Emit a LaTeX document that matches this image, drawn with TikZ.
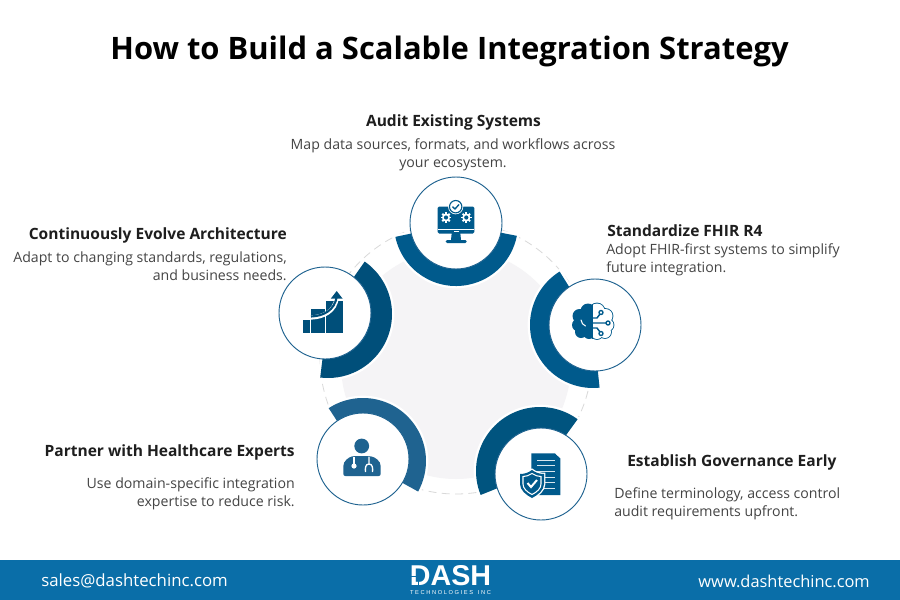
\documentclass[tikz,border=0pt]{standalone}
\usepackage{fontspec}
\setmainfont{Open Sans}
\definecolor{ringA}{HTML}{005A8C}
\definecolor{ringB}{HTML}{004F7A}
\definecolor{ringC}{HTML}{1F6390}
\definecolor{ringD}{HTML}{00547F}
\definecolor{iconc}{HTML}{005A8C}
\definecolor{halo}{HTML}{F5F4F6}
\definecolor{bar}{HTML}{0A6EA8}
\definecolor{bodyc}{HTML}{444444}
\definecolor{headc}{HTML}{1E1E1E}
\newcommand{\ringsec}[6]{%
  \fill[#6,draw=white,line width=3.5pt,line join=miter] (#1,#2) -- ++(#3:#5) arc (#3:#4:#5) -- cycle;
  \fill[#6] (#1,#2) -- ++(#3:#5) arc (#3:#4:#5) -- cycle;}
\newcommand{\gearicon}[2]{%
  \foreach \a in {0,45,...,315}{\fill[white,rotate around={\a:(#1,#2)}] (#1-0.9,#2) rectangle (#1+0.9,#2+5.3);}
  \fill[white] (#1,#2) circle (4);
  \fill[iconc] (#1,#2) circle (2.1);}
\tikzset{
  x=0.75pt,y=0.75pt,
  iconcircle/.style={circle,draw=ringC,fill=white,line width=0.7pt,minimum size=69pt,inner sep=0pt},
  headtxt/.style={inner sep=0pt,text=headc,font=\fontsize{11.65}{13.5}\selectfont\bfseries},
  bodytxt/.style={inner sep=0pt,text=bodyc,font=\fontsize{10.6}{13.5}\selectfont},
  foot/.style={inner sep=0pt,text=white,font=\fontsize{12.6}{14}\selectfont},
}
\begin{document}
\begin{tikzpicture}
\useasboundingbox (0,0) rectangle (900,-600);
\fill[white] (0,0) rectangle (900,-600);
% footer
\fill[bar] (0,-560) rectangle (900,-600);
% backdrop
\fill[halo] (456,-364) circle (115);
\draw[black!15,line width=0.6pt,dash pattern=on 6pt off 4pt] (456,-358) circle (136);
% ring sectors
\ringsec{456}{-224}{192}{349}{62}{ringA}
\ringsec{593}{-325}{122}{276}{63}{ringA}
\ringsec{540}{-471}{54}{202}{64}{ringD}
\ringsec{363}{-461}{123}{-29}{63}{ringC}
\ringsec{328}{-314}{55}{-97}{64}{ringB}
% circles
\node[iconcircle] (audit) at (456,-223) {};
\node[iconcircle] (fhir) at (595,-325) {};
\node[iconcircle] (gov) at (541,-474) {};
\node[iconcircle] (expert) at (363,-459) {};
\node[iconcircle] (evolve) at (325,-313) {};
% monitor icon
\fill[iconc,rounded corners=1pt] (437.7,-206.7) rectangle (474.3,-233.5);
\fill[white] (437.7,-228.6) rectangle (474.3,-229.8);
\fill[white] (453.5,-231) rectangle (458.5,-232);
\fill[iconc] (451.7,-233) -- (460.3,-233) -- (461,-240) -- (451,-240) -- cycle;
\fill[iconc,rounded corners=1pt] (445.7,-240) rectangle (466.7,-243);
\gearicon{446}{-217.5}
\gearicon{466.3}{-217.5}
\fill[white] (455.7,-206.7) circle (7.6);
\draw[iconc,line width=0.85pt] (455.7,-206.7) circle (6.2);
\draw[iconc,line width=1pt] (452.5,-206.7) -- (455,-209) -- (459,-204.5);
% brain icon
\begin{scope}
  \clip (560,-300) rectangle (592.7,-345);
  \fill[iconc] (588,-311) circle (7.5) (579.5,-316) circle (7) (578.5,-325) circle (6.5) (581,-332) circle (6) (589,-333) circle (6) (587,-322) circle (11);
\end{scope}
\begin{scope}
  \clip (592.7,-300) rectangle (625,-345);
  \draw[iconc,line width=1.3pt] (597,-311) circle (7.5) (605.5,-316) circle (7) (607.5,-325) circle (6) (605,-332) circle (6) (597,-333) circle (6);
  \fill[white] (597,-311) circle (7.5) (605.5,-316) circle (7) (607.5,-325) circle (6) (605,-332) circle (6) (597,-333) circle (6) (598,-322) circle (11);
  \draw[iconc,line width=1.1pt] (592.7,-323) -- (606,-323) (592.7,-318) -- (597,-318) -- (600,-314) (592.7,-328) -- (597,-328) -- (600,-332);
  \fill[white,draw=iconc,line width=1pt] (608,-323) circle (2) (601,-312.5) circle (2) (601,-333.5) circle (2);
\end{scope}
\draw[iconc,line width=0.9pt] (592.7,-304) -- (592.7,-339);
\draw[white,line width=0.8pt,line cap=round] (581,-320) .. controls (581.5,-323) and (583,-325) .. (585.5,-326);
% document and shield icon
\fill[iconc] (531.3,-453.3) -- (555,-453.3) -- (560.3,-458.5) -- (560.3,-495) -- (531.3,-495) -- cycle;
\fill[white] (555.5,-453.3) -- (560.3,-453.3) -- (560.3,-458) -- cycle;
\foreach \yy in {-460,-465,-471,-477,-482,-488}{\fill[white!85!iconc] (537,\yy+0.5) rectangle (555.3,\yy-0.7);}
\fill[iconc,draw=white,line width=2pt] (532,-470) .. controls (536,-473) and (540,-474) .. (544,-474) -- (544,-484) .. controls (544,-490) and (538,-495) .. (532,-498) .. controls (526,-495) and (520,-490) .. (520,-484) -- (520,-474) .. controls (524,-474) and (528,-473) .. cycle;
\fill[iconc] (532,-470) .. controls (536,-473) and (540,-474) .. (544,-474) -- (544,-484) .. controls (544,-490) and (538,-495) .. (532,-498) .. controls (526,-495) and (520,-490) .. (520,-484) -- (520,-474) .. controls (524,-474) and (528,-473) .. cycle;
\draw[white,line width=0.8pt] (532,-473.5) .. controls (535,-475.5) and (538,-476.5) .. (541,-476.5) -- (541,-484) .. controls (541,-488.5) and (537,-492) .. (532,-494.5) .. controls (527,-492) and (523,-488.5) .. (523,-484) -- (523,-476.5) .. controls (526,-476.5) and (529,-475.5) .. cycle;
\draw[white,line width=1.5pt] (527.5,-483) -- (531,-487) -- (537,-480);
% chart icon
\fill[ringB] (303.3,-320) rectangle (310,-333.3);
\fill[ringB] (311,-309) rectangle (325,-333.3);
\fill[ringB] (326,-301) rectangle (343.3,-333.3);
\draw[white,line width=3.2pt] (311,-317.5) .. controls (324,-317) and (335,-311) .. (336.7,-298);
\draw[ringB,line width=1.6pt] (311,-316.5) .. controls (324,-316) and (334.5,-310) .. (336.7,-297);
\fill[ringB] (336.7,-291) -- (342.5,-298.5) -- (330.9,-298.5) -- cycle;
% doctor icon
\fill[ringC] (361.7,-446) circle (7.4);
\fill[ringC,rounded corners=1.5pt] (343.3,-476) -- (343.3,-468) .. controls (343.3,-461) and (349,-457) .. (354,-456) -- (369,-456) .. controls (375,-457) and (380.7,-461) .. (380.7,-468) -- (380.7,-476) -- cycle;
\draw[white,line width=1pt] (354,-456.5) -- (354,-464);
\fill[white] (354,-466) circle (2.6);
\draw[white,line width=1pt] (369,-456.5) -- (369,-464) (369,-464) .. controls (365.5,-464) and (365,-468) .. (365.5,-472) (369,-464) .. controls (372.5,-464) and (373,-468) .. (372.5,-472);
% texts
\node[inner sep=0pt,text=black,font=\fontsize{23.2}{28}\selectfont\bfseries] (title) at (449.5,-51) {How to Build a Scalable Integration Strategy};
\node[headtxt] (h1) at (453.5,-122.5) {Audit Existing Systems};
\node[bodytxt,align=center,anchor=north] (b1) at (453,-138.5) {Map data sources, formats, and workflows across\\your ecosystem.};
\node[headtxt,anchor=west] (h2) at (607,-230.5) {Standardize FHIR R4};
\node[bodytxt,align=left,anchor=north west] (b2) at (606,-243) {Adopt FHIR-first systems to simplify\\future integration.};
\node[headtxt,anchor=west] (h3) at (627,-462.5) {Establish Governance Early};
\begin{scope}
\clip (600,-480) rectangle (839,-525);
\node[bodytxt,align=left,anchor=north west] (b3) at (614,-487) {Define terminology, access control\\audit requirements upfront.};
\end{scope}
\node[headtxt,anchor=east] (h4) at (295,-452.5) {Partner with Healthcare Experts};
\node[bodytxt,align=right,anchor=north east] (b4) at (295,-477) {Use domain-specific integration\\expertise to reduce risk.};
\node[headtxt,anchor=east] (h5) at (287,-235.5) {Continuously Evolve Architecture};
\node[bodytxt,align=right,anchor=north east] (b5) at (287,-251) {Adapt to changing standards, regulations,\\and business needs.};
% footer
\node[foot,anchor=west] (mail) at (41,-581) {sales@dashtechinc.com};
\node[foot,anchor=east,font=\fontsize{12.3}{14}\selectfont] (web) at (870,-581) {www.dashtechinc.com};
\node[inner sep=0pt,text=white,font=\fontspec{Liberation Sans}\fontsize{21.5}{22}\selectfont\bfseries,anchor=base] (logo) at (450.5,-585.7) {DASH};
\fill[bar] (411,-575.5) rectangle (424,-576.7);
\fill[bar] (418,-576.7) rectangle (419,-586);
\node[inner sep=0pt,text=white,font=\fontspec{Liberation Sans}\fontsize{4.3}{5}\selectfont] (tag) at (450.5,-593) {T E C H N O L O G I E S \ \ I N C};
\end{tikzpicture}
\end{document}
